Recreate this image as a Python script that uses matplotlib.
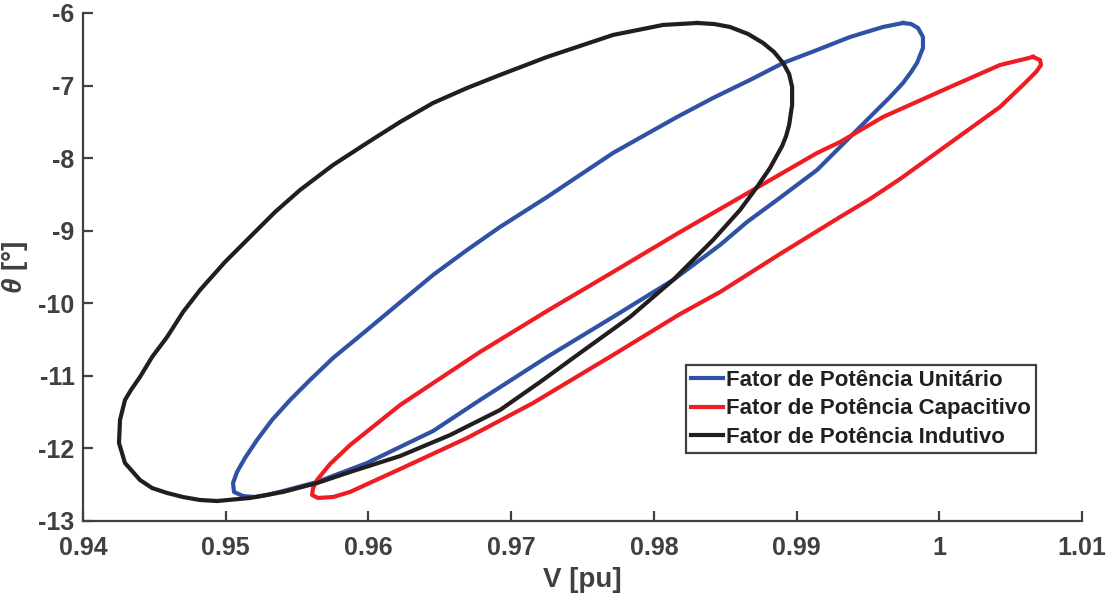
import matplotlib

matplotlib.use("Agg")
import matplotlib.pyplot as plt
import numpy as np

plt.rcParams["font.family"] = ["Liberation Sans", "DejaVu Sans"]
plt.rcParams["font.weight"] = "bold"
plt.rcParams["axes.unicode_minus"] = False
plt.rcParams["mathtext.fontset"] = "custom"
plt.rcParams["mathtext.it"] = "Liberation Sans:italic:bold"

# Trajectories in the V-theta plane (V in pu, theta in degrees)
v_unitario = [0.99746, 0.99606, 0.99375, 0.99144, 0.98906, 0.98674, 0.98415, 0.98163,
              0.97938, 0.97714, 0.97483, 0.97252, 0.96922, 0.96691, 0.96453, 0.96242,
              0.95990, 0.95752, 0.95591, 0.95451, 0.95324, 0.95219, 0.95135, 0.95079,
              0.95051, 0.95058, 0.95121, 0.95205, 0.95289, 0.95402, 0.95640, 0.95990,
              0.96453, 0.96782, 0.97252, 0.97714, 0.98135, 0.98464, 0.98653, 0.98863,
              0.99144, 0.99375, 0.99550, 0.99655, 0.99746, 0.99803, 0.99844, 0.99886,
              0.99886, 0.99851, 0.99803, 0.99746]
th_unitario = [-6.138, -6.193, -6.331, -6.510, -6.689, -6.923, -7.171, -7.433,
               -7.681, -7.929, -8.232, -8.536, -8.949, -9.266, -9.610, -9.955,
               -10.368, -10.754, -11.057, -11.333, -11.609, -11.884, -12.132, -12.325,
               -12.477, -12.600, -12.656, -12.670, -12.642, -12.587, -12.463, -12.201,
               -11.760, -11.333, -10.740, -10.189, -9.679, -9.197, -8.880, -8.577,
               -8.163, -7.709, -7.364, -7.158, -6.965, -6.813, -6.689, -6.482,
               -6.331, -6.207, -6.152, -6.138]

v_capacitivo = [1.00657, 1.00426, 1.00076, 0.99606, 0.99305, 0.99144, 0.98695, 0.98184,
                0.97714, 0.97252, 0.96782, 0.96222, 0.95871, 0.95731, 0.95640, 0.95612,
                0.95605, 0.95647, 0.95752, 0.95871, 0.96222, 0.96691, 0.97154, 0.97714,
                0.98184, 0.98464, 0.98884, 0.99305, 0.99515, 0.99725, 1.00076, 1.00426,
                1.00601, 1.00678, 1.00713, 1.00706, 1.00657]
th_capacitivo = [-6.606, -6.717, -7.020, -7.433, -7.778, -7.929, -8.439, -9.018,
                 -9.569, -10.106, -10.671, -11.402, -11.954, -12.215, -12.435, -12.546,
                 -12.642, -12.683, -12.670, -12.600, -12.284, -11.857, -11.374, -10.713,
                 -10.148, -9.845, -9.321, -8.811, -8.563, -8.288, -7.791, -7.295,
                 -6.965, -6.813, -6.717, -6.648, -6.606]

v_indutivo = [0.98303, 0.98065, 0.97714, 0.97252, 0.96922, 0.96691, 0.96453, 0.96222,
              0.95990, 0.95752, 0.95521, 0.95346, 0.95170, 0.94995, 0.94820, 0.94701,
              0.94589, 0.94484, 0.94399, 0.94336, 0.94294, 0.94259, 0.94252, 0.94294,
              0.94399, 0.94484, 0.94589, 0.94701, 0.94820, 0.94939, 0.95170, 0.95402,
              0.95640, 0.95871, 0.96222, 0.96572, 0.96922, 0.97203, 0.97483, 0.97833,
              0.98135, 0.98415, 0.98604, 0.98723, 0.98814, 0.98899, 0.98927, 0.98948,
              0.98969, 0.98969, 0.98948, 0.98906, 0.98842, 0.98765, 0.98660, 0.98534,
              0.98422, 0.98303]
th_indutivo = [-6.138, -6.165, -6.303, -6.606, -6.854, -7.034, -7.240, -7.502,
               -7.791, -8.095, -8.439, -8.742, -9.087, -9.431, -9.817, -10.120,
               -10.465, -10.740, -11.016, -11.195, -11.333, -11.609, -11.925, -12.201,
               -12.435, -12.546, -12.614, -12.670, -12.711, -12.725, -12.683, -12.600,
               -12.477, -12.325, -12.105, -11.816, -11.471, -11.085, -10.685, -10.189,
               -9.679, -9.128, -8.715, -8.398, -8.136, -7.833, -7.695, -7.543,
               -7.268, -7.020, -6.841, -6.689, -6.537, -6.413, -6.289, -6.193,
               -6.152, -6.138]

labels = [
    "Fator de Potência Unitário",
    "Fator de Potência Capacitivo",
    "Fator de Potência Indutivo",
]
x_ticks = [0.94, 0.95, 0.96, 0.97, 0.98, 0.99, 1.00, 1.01]
x_tick_labels = ["0.94", "0.95", "0.96", "0.97", "0.98", "0.99", "1", "1.01"]
y_ticks = [-13, -12, -11, -10, -9, -8, -7, -6]

AXIS_GRAY = "#404040"


def plot_pv_loops(save_path="out.png"):
    fig = plt.figure(figsize=(11.13, 5.95), dpi=100)
    ax = fig.add_axes([0.0746, 0.1244, 0.8975, 0.8538])

    ax.plot(v_unitario, th_unitario, color="#2f52a4", lw=3.0, label=labels[0],
            solid_joinstyle="round")
    ax.plot(v_capacitivo, th_capacitivo, color="#ee1d24", lw=3.0, label=labels[1],
            solid_joinstyle="round")
    ax.plot(v_indutivo, th_indutivo, color="#221e1f", lw=3.0, label=labels[2],
            solid_joinstyle="round")

    ax.set_xlim(0.94, 1.01)
    ax.set_ylim(-13, -6)
    ax.set_xticks(x_ticks)
    ax.set_xticklabels(x_tick_labels)
    ax.set_yticks(y_ticks)

    for side in ("top", "right"):
        ax.spines[side].set_visible(False)
    for side in ("left", "bottom"):
        ax.spines[side].set_color(AXIS_GRAY)
        ax.spines[side].set_linewidth(1.6)

    ax.tick_params(direction="in", length=7, width=1.6, color=AXIS_GRAY,
                   labelcolor=AXIS_GRAY, labelsize=18)
    ax.tick_params(axis="x", pad=11)
    ax.tick_params(axis="y", pad=6)
    for lbl in ax.get_xticklabels() + ax.get_yticklabels():
        lbl.set_fontweight("bold")

    ax.set_xlabel("V [pu]", fontsize=20, fontweight="bold", color=AXIS_GRAY, labelpad=5)
    ax.set_ylabel(r"$\theta$ [°]", fontsize=20, fontweight="bold", color=AXIS_GRAY,
                  labelpad=6)

    leg = ax.legend(loc="upper left", bbox_to_anchor=(0.6036, 0.307), borderaxespad=0,
                    fancybox=False, framealpha=1, handlelength=1.45,
                    handletextpad=0.12, borderpad=0.22, labelspacing=0.34,
                    prop={"weight": "bold", "size": 16})
    leg.get_frame().set_edgecolor(AXIS_GRAY)
    leg.get_frame().set_linewidth(1.6)
    for txt in leg.get_texts():
        txt.set_color("#231f20")

    fig.savefig(save_path, dpi=100)


plot_pv_loops()
